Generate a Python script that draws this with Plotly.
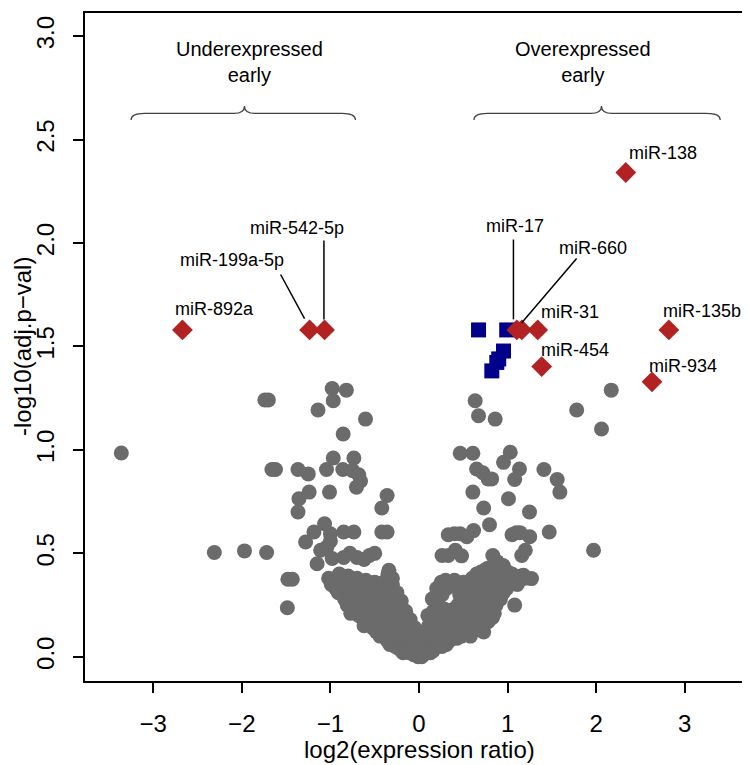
import plotly.graph_objects as go

# grey: not significant miRNAs (log2 ratio, -log10 adj p)
gray_pts = [
    # scattered, left side
    (-3.36, 0.985), (-1.74, 1.241), (-1.70, 1.241), (-0.98, 1.297), (-0.82, 1.289),
    (-0.968, 1.238), (-1.14, 1.193), (-0.604, 1.149), (-0.856, 1.077),
    (-1.66, 0.905), (-1.62, 0.905), (-1.366, 0.905), (-1.25, 0.884), (-0.968, 0.961),
    (-0.735, 0.961), (-1.044, 0.905), (-0.86, 0.905), (-0.75, 0.90), (-0.68, 0.88),
    (-0.66, 0.85), (-0.706, 0.82), (-1.01, 0.796), (-1.24, 0.796), (-1.355, 0.764),
    (-1.366, 0.70), (-0.36, 0.78), (-0.42, 0.719),
    (-1.066, 0.643), (-1.186, 0.603), (-1.28, 0.555), (-1.0, 0.595), (-0.85, 0.603),
    (-0.735, 0.603), (-0.42, 0.603), (-0.36, 0.603), (-1.11, 0.515), (-0.98, 0.475),
    (-1.15, 0.45), (-0.85, 0.48), (-0.78, 0.50), (-0.70, 0.48), (-0.62, 0.47),
    (-0.56, 0.49), (-0.50, 0.50), (-1.04, 0.53), (-1.00, 0.56),
    (-2.31, 0.504), (-1.97, 0.512), (-1.72, 0.504), (-1.48, 0.375), (-1.43, 0.375),
    (-1.486, 0.237), (-0.34, 0.418), (-0.30, 0.38),
    # scattered, right side
    (0.634, 1.238), (0.672, 1.165), (0.86, 1.149), (1.78, 1.193), (2.17, 1.289), (2.06, 1.101),
    (0.465, 0.984), (0.608, 0.984), (1.03, 0.989), (0.954, 0.94), (0.65, 0.908), (0.72, 0.89),
    (0.78, 0.86), (0.82, 0.86), (1.134, 0.908), (1.08, 0.857), (1.41, 0.905), (1.56, 0.857),
    (1.59, 0.796), (0.608, 0.796), (1.01, 0.764), (0.73, 0.719), (1.247, 0.70), (0.796, 0.638),
    (1.47, 0.603), (0.33, 0.59), (0.40, 0.595), (0.465, 0.595), (0.54, 0.58), (0.616, 0.61),
    (1.05, 0.59), (1.10, 0.60), (1.14, 0.60), (1.25, 0.58), (1.97, 0.515), (0.26, 0.49),
    (0.33, 0.49), (0.41, 0.515), (0.48, 0.488), (0.833, 0.49), (1.16, 0.49), (1.2, 0.515),
    (1.08, 0.25), (1.27, 0.378), (1.18, 0.394), (0.95, 0.44), (0.77, 0.427), (0.88, 0.46),
    # dense band, left arm
    (-1.02, 0.38), (-0.99, 0.35), (-0.95, 0.37), (-0.94, 0.33), (-0.90, 0.40), (-0.89, 0.35), (-0.91, 0.31),
    (-0.86, 0.38), (-0.85, 0.33), (-0.84, 0.28), (-0.80, 0.39), (-0.81, 0.34), (-0.79, 0.29), (-0.81, 0.25),
    (-0.77, 0.21), (-0.75, 0.37), (-0.74, 0.32), (-0.76, 0.27), (-0.70, 0.38), (-0.71, 0.33), (-0.69, 0.28),
    (-0.70, 0.24), (-0.68, 0.20), (-0.65, 0.36), (-0.66, 0.31), (-0.64, 0.26), (-0.65, 0.22), (-0.63, 0.18),
    (-0.62, 0.15), (-0.60, 0.37), (-0.59, 0.33), (-0.61, 0.28), (-0.58, 0.24), (-0.60, 0.20), (-0.57, 0.17),
    (-0.55, 0.34), (-0.54, 0.30), (-0.56, 0.26), (-0.53, 0.22), (-0.55, 0.18), (-0.52, 0.14),
    (-0.50, 0.36), (-0.49, 0.31), (-0.51, 0.27), (-0.48, 0.23), (-0.50, 0.19), (-0.47, 0.15), (-0.48, 0.12),
    (-0.45, 0.33), (-0.44, 0.29), (-0.46, 0.25), (-0.43, 0.21), (-0.45, 0.17), (-0.42, 0.13), (-0.44, 0.10),
    (-0.40, 0.36), (-0.39, 0.30), (-0.41, 0.26), (-0.38, 0.22), (-0.40, 0.18), (-0.37, 0.14), (-0.39, 0.10),
    (-0.36, 0.08), (-0.35, 0.40), (-0.34, 0.33), (-0.36, 0.28), (-0.33, 0.24), (-0.35, 0.20), (-0.32, 0.16),
    (-0.34, 0.12), (-0.31, 0.08), (-0.33, 0.06), (-0.30, 0.35), (-0.29, 0.31), (-0.28, 0.27), (-0.30, 0.22),
    (-0.27, 0.18), (-0.29, 0.14), (-0.26, 0.10), (-0.28, 0.07), (-0.27, 0.05),
    (-0.25, 0.31), (-0.24, 0.26), (-0.23, 0.21), (-0.25, 0.17), (-0.22, 0.13), (-0.24, 0.09), (-0.21, 0.06),
    (-0.23, 0.04), (-0.20, 0.27), (-0.19, 0.22), (-0.18, 0.18), (-0.20, 0.14), (-0.17, 0.10), (-0.19, 0.07),
    (-0.16, 0.04), (-0.18, 0.02), (-0.15, 0.22), (-0.14, 0.18), (-0.13, 0.14), (-0.15, 0.10), (-0.12, 0.07),
    (-0.14, 0.04), (-0.11, 0.02), (-0.10, 0.18), (-0.09, 0.14), (-0.08, 0.10), (-0.10, 0.07), (-0.07, 0.04),
    (-0.09, 0.02), (-0.06, 0.01), (-0.05, 0.14), (-0.04, 0.10), (-0.03, 0.07), (-0.05, 0.04), (-0.02, 0.02),
    (-0.04, 0.01), (-0.01, 0.00), (0.00, 0.10), (0.01, 0.06), (0.02, 0.03), (0.00, 0.01), (0.03, 0.00),
    # dense band, right arm
    (0.05, 0.12), (0.06, 0.08), (0.04, 0.05), (0.07, 0.02), (0.05, 0.01),
    (0.10, 0.20), (0.11, 0.15), (0.09, 0.10), (0.12, 0.07), (0.10, 0.04), (0.13, 0.02),
    (0.15, 0.28), (0.16, 0.22), (0.14, 0.17), (0.17, 0.12), (0.15, 0.08), (0.18, 0.05), (0.16, 0.03),
    (0.20, 0.33), (0.21, 0.27), (0.19, 0.22), (0.22, 0.17), (0.20, 0.12), (0.23, 0.08), (0.21, 0.05),
    (0.25, 0.36), (0.26, 0.30), (0.24, 0.24), (0.27, 0.19), (0.25, 0.14), (0.28, 0.09), (0.26, 0.05),
    (0.30, 0.37), (0.31, 0.33), (0.29, 0.23), (0.32, 0.18), (0.30, 0.13), (0.33, 0.09), (0.31, 0.06),
    (0.35, 0.36), (0.36, 0.22), (0.34, 0.17), (0.37, 0.12), (0.35, 0.08),
    (0.40, 0.37), (0.41, 0.34), (0.39, 0.23), (0.42, 0.18), (0.40, 0.13), (0.43, 0.09),
    (0.45, 0.35), (0.46, 0.30), (0.44, 0.25), (0.47, 0.20), (0.45, 0.15), (0.48, 0.10),
    (0.50, 0.36), (0.51, 0.31), (0.49, 0.26), (0.52, 0.21), (0.50, 0.16), (0.53, 0.11),
    (0.55, 0.34), (0.56, 0.29), (0.54, 0.24), (0.57, 0.19), (0.55, 0.14), (0.58, 0.10),
    (0.60, 0.38), (0.61, 0.33), (0.59, 0.28), (0.62, 0.23), (0.60, 0.18), (0.63, 0.13),
    (0.65, 0.40), (0.66, 0.35), (0.64, 0.30), (0.67, 0.25), (0.65, 0.20), (0.68, 0.15),
    (0.70, 0.41), (0.71, 0.36), (0.69, 0.31), (0.72, 0.26), (0.70, 0.21), (0.73, 0.16), (0.73, 0.12),
    (0.75, 0.42), (0.76, 0.37), (0.74, 0.32), (0.77, 0.27), (0.75, 0.22), (0.78, 0.17),
    (0.80, 0.43), (0.81, 0.38), (0.79, 0.33), (0.82, 0.28), (0.80, 0.23), (0.83, 0.19),
    (0.85, 0.40), (0.86, 0.35), (0.84, 0.30), (0.87, 0.25), (0.85, 0.21),
    (0.90, 0.42), (0.91, 0.37), (0.89, 0.32), (0.92, 0.28),
    (0.95, 0.44), (0.96, 0.39), (0.94, 0.34), (0.95, 0.31),
    (1.00, 0.41), (1.01, 0.37), (0.99, 0.33), (1.05, 0.40), (1.06, 0.36),
    (1.10, 0.38), (1.11, 0.35), (1.15, 0.39), (1.20, 0.38),
]
gray_x = [p[0] for p in gray_pts]
gray_y = [p[1] for p in gray_pts]

# blue: significant, no label
blue_x = [0.672, 0.99, 0.954, 0.90, 0.878, 0.822]
blue_y = [1.58, 1.58, 1.478, 1.44, 1.423, 1.382]

# red: labelled miRNAs
red_names = ["miR-892a", "miR-199a-5p", "miR-542-5p", "miR-17", "miR-660",
             "miR-31", "miR-135b", "miR-454", "miR-934", "miR-138"]
red_x = [-2.67, -1.235, -1.066, 1.104, 1.16, 1.34, 2.82, 1.385, 2.63, 2.334]
red_y = [1.58, 1.58, 1.58, 1.58, 1.58, 1.58, 1.58, 1.403, 1.329, 2.341]
label_x = [-2.312, -2.106, -1.374, 1.084, 1.967, 1.704, 3.198, 1.760, 2.981, 2.759]
label_y = [1.68, 1.916, 2.073, 2.081, 1.977, 1.666, 1.671, 1.483, 1.406, 2.433]

# leader lines (x0, y0, x1, y1)
leaders = [(-1.562, 1.848, -1.292, 1.635),
           (-1.073, 2.012, -1.073, 1.631),
           (1.066, 2.017, 1.066, 1.631),
           (1.779, 1.925, 1.16, 1.615)]

# group headers with braces: (text, text x, brace x0, brace peak, brace x1)
groups = [("Underexpressed<br>early", -1.918, -3.25, -1.97, -0.717),
          ("Overexpressed<br>early", 1.85, 0.62, 2.06, 3.40)]

FONT = "Liberation Sans, Arial, Helvetica, sans-serif"

fig = go.Figure()
fig.add_trace(go.Scatter(x=gray_x, y=gray_y, mode="markers",
                         marker=dict(symbol="circle", size=15, color="#6b6b6b", line=dict(width=0))))
fig.add_trace(go.Scatter(x=blue_x, y=blue_y, mode="markers",
                         marker=dict(symbol="square", size=15, color="#00008b", line=dict(width=0))))
fig.add_trace(go.Scatter(x=red_x, y=red_y, mode="markers", text=red_names,
                         marker=dict(symbol="diamond", size=16, color="#b22222", line=dict(width=0))))

shapes = []
for x0, y0, x1, y1 in leaders:
    shapes.append(dict(type="line", xref="x", yref="y", x0=x0, y0=y0, x1=x1, y1=y1,
                       line=dict(color="black", width=1.5)))

annotations = []
for name, lx, ly in zip(red_names, label_x, label_y):
    annotations.append(dict(x=lx, y=ly, xref="x", yref="y", text=name, showarrow=False,
                            xanchor="center", yanchor="middle",
                            font=dict(family=FONT, size=18, color="black")))

y_tip, y_line, y_peak = 2.595, 2.627, 2.663
for txt, tx, b0, bp, b1 in groups:
    d, d2 = 0.15, 0.12
    path = (f"M {b0},{y_tip} Q {b0},{y_line} {b0 + d},{y_line} "
            f"L {bp - d2},{y_line} Q {bp},{y_line} {bp},{y_peak} "
            f"Q {bp},{y_line} {bp + d2},{y_line} "
            f"L {b1 - d},{y_line} Q {b1},{y_line} {b1},{y_tip}")
    shapes.append(dict(type="path", xref="x", yref="y", path=path,
                       line=dict(color="#444444", width=1.2)))
    annotations.append(dict(x=tx, y=2.875, xref="x", yref="y", text=txt, showarrow=False,
                            xanchor="center", yanchor="middle",
                            font=dict(family=FONT, size=20, color="black")))

# axis titles
annotations.append(dict(x=0.5, y=0, xref="paper", yref="paper", yshift=-68,
                        text="log2(expression ratio)", showarrow=False,
                        xanchor="center", yanchor="middle",
                        font=dict(family=FONT, size=24, color="black")))
annotations.append(dict(x=0, y=0.5, xref="paper", yref="paper", xshift=-63,
                        text="-log10(adj.p\u2212val)", showarrow=False, textangle=-90,
                        xanchor="center", yanchor="middle",
                        font=dict(family=FONT, size=24, color="black")))

axis_style = dict(showline=True, mirror=True, linecolor="black", linewidth=2,
                  ticks="outside", ticklen=10, tickwidth=2, tickcolor="black",
                  showgrid=False, zeroline=False,
                  tickfont=dict(family=FONT, size=24, color="black"))

fig.update_xaxes(range=[-3.77, 3.77], tickvals=[-3, -2, -1, 0, 1, 2, 3],
                 ticklabelstandoff=10, **axis_style)
fig.update_yaxes(range=[-0.117, 3.112], tickvals=[0, 0.5, 1, 1.5, 2, 2.5, 3],
                 tickformat=".1f", tickangle=-90, ticklabelstandoff=9, **axis_style)

fig.update_layout(width=750, height=765, showlegend=False,
                  margin=dict(l=77, r=3, t=3, b=92),
                  plot_bgcolor="white", paper_bgcolor="white",
                  shapes=shapes, annotations=annotations)

fig.write_html("out.html")
